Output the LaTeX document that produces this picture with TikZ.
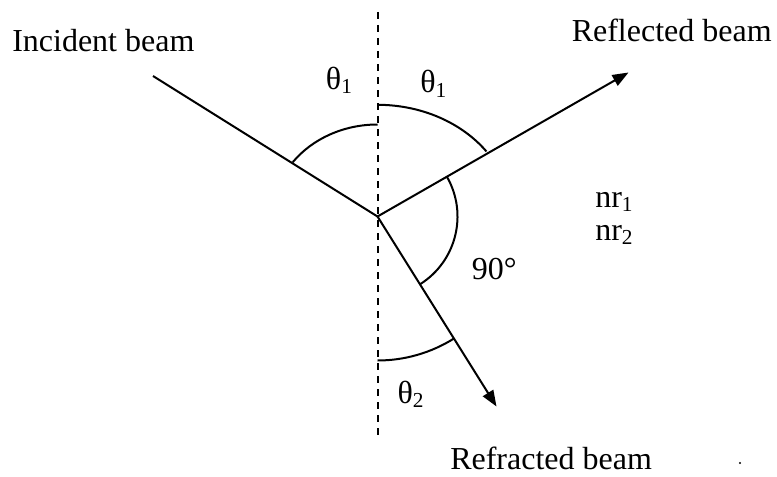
\documentclass[tikz,border=0pt]{standalone}
\usepackage{fontspec}
\setmainfont{Liberation Serif}
\usetikzlibrary{arrows.meta}
\newcommand{\lowsub}[1]{\raisebox{-3.5pt}{\fontsize{16}{16}\selectfont #1}}

\begin{document}
\begin{tikzpicture}[x=0.75pt, y=0.75pt,
    beam/.style={line width=1.5pt},
    ray/.style={beam, -{Triangle[length=12pt, width=9pt]}},
    normal/.style={line width=1.5pt, dash pattern=on 5.25pt off 4.5pt},
    angarc/.style={line width=1.5pt},
    lbl/.style={anchor=base west, inner sep=0pt, font=\fontsize{24}{28}\selectfont},
]
    \useasboundingbox (0,0) rectangle (777,476);

    % Points
    \coordinate (O) at (377.5,259.5);
    \coordinate (ntop) at (377.5,464);
    \coordinate (nbot) at (377.5,39);
    \coordinate (inc) at (153,400);
    \coordinate (refl) at (628.5,403.5);
    \coordinate (refr) at (496.5,69.5);

    % Normal and beams
    \draw[normal] (ntop) -- (nbot);
    \draw[beam] (inc) -- (O);
    \draw[ray] (O) -- (refl);
    \draw[ray] (O) -- (refr);

    % Angle arcs
    \draw[angarc] (O) ++(0,92) arc[start angle=90, end angle=143.8, x radius=105, y radius=92];
    \draw[angarc] (O) ++(0,111.7) arc[start angle=90, end angle=35.6, x radius=134, y radius=111.7];
    \draw[angarc] (O) ++(29.9:80) arc[start angle=29.9, end angle=-57.9, radius=80];
    \draw[angarc] (O) ++(-90:144) arc[start angle=-90, end angle=-57.9, radius=144];

    % Labels
    \node[lbl] (tinc) at (12,424) {Incident beam};
    \node[lbl] (trefl) at (571.5,434.3) {Reflected beam};
    \node[lbl] (trefr) at (450,7) {Refracted beam};
    \node[lbl] (nra) at (595,269) {nr\lowsub{1}};
    \node[lbl] (nrb) at (595,236) {nr\lowsub{2}};
    \node[lbl] (tha) at (325.7,387) {θ\lowsub{1}};
    \node[lbl] (thb) at (420,383) {θ\lowsub{1}};
    \node[lbl] (rt) at (471.7,197) {90°};
    \node[lbl] (thc) at (397.3,73) {θ\lowsub{2}};

    \fill (740,13) circle (1.2);
\end{tikzpicture}
\end{document}
